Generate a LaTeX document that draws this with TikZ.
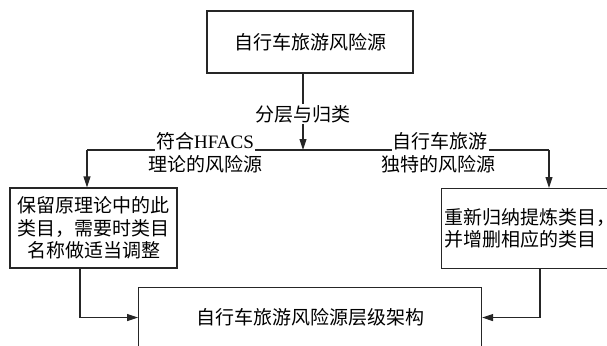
\documentclass[tikz,border=0pt]{standalone}
\usepackage{fontspec}
\setmainfont{Liberation Serif}
\newfontfamily\cjk{Noto Sans CJK SC}
\usetikzlibrary{arrows.meta}
\begin{document}
\begin{tikzpicture}[x=1pt,y=-1pt,
  box/.style={draw=black!85, line width=1.1pt, fill=white, inner sep=2pt,
              font=\cjk\fontsize{19}{22.5}\selectfont},
  lbl/.style={fill=white, inner sep=1pt, font=\cjk\fontsize{19}{22.5}\selectfont},
  conn/.style={draw=black!85, line width=1.1pt},
  arr/.style={conn, -{Triangle[length=11pt,width=7pt]}}]
\useasboundingbox (0,0) rectangle (607,345);
\clip (0,0) rectangle (607,345);

% boxes
\node[box, minimum width=206, minimum height=62] (top) at (310,42) {自行车旅游风险源};
\node[box, minimum width=167, minimum height=80, align=center] (lbox) at (93.5,228)
  {保留原理论中的此\\类目，需要时类目\\名称做适当调整};
\node[box, anchor=north west, text width=180, minimum height=80, align=left, inner xsep=3pt] (rbox) at (441,188)
  {重新归纳提炼类目，\\并增删相应的类目};
\node[box, anchor=north west, minimum width=343, minimum height=60] (bbox) at (138,287)
  {自行车旅游风险源层级架构};

% coordinates for connector bends
\coordinate (junc) at (303,150);
\coordinate (lturn) at (87,150);
\coordinate (rturn) at (549,150);
\coordinate (lout) at (80,0);
\coordinate (rout) at (540,0);

% connectors
\draw[arr] (top.south -| junc) -- (junc);
\draw[conn] (lturn) -- (junc) -- (rturn);
\draw[arr] (lturn) -- (lturn |- lbox.north);
\draw[arr] (rturn) -- (rturn |- rbox.north);
\draw[arr] (lbox.south -| lout) |- (bbox.west);
\draw[arr] (rbox.south -| rout) |- (bbox.east);

% labels
\node[lbl] (split) at (303,114) {分层与归类};
\node[lbl, anchor=base] (l1) at (205,148) {符合{\rmfamily HFACS}};
\node[lbl, anchor=base] (l2) at (205,171) {理论的风险源};
\node[lbl, anchor=base] (r1) at (440,148) {自行车旅游};
\node[lbl, anchor=base] (r2) at (438,171) {独特的风险源};
\end{tikzpicture}
\end{document}
